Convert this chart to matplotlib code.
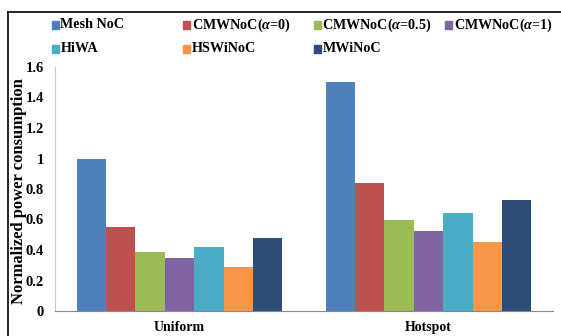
import numpy as np
import matplotlib
matplotlib.use("Agg")
import matplotlib.pyplot as plt
from matplotlib.lines import Line2D
from matplotlib.patches import Rectangle

plt.rcParams['font.family'] = ['Liberation Serif', 'DejaVu Serif']
plt.rcParams['font.weight'] = 'bold'
plt.rcParams['mathtext.fontset'] = 'custom'
plt.rcParams['mathtext.it'] = 'Liberation Serif:italic:bold'
plt.rcParams['mathtext.rm'] = 'Liberation Serif:bold'

categories = ["Uniform", "Hotspot"]
series = ["Mesh NoC", r"CMWNoC($\alpha$=0)", r"CMWNoC($\alpha$=0.5)",
          r"CMWNoC($\alpha$=1)", "HiWA", "HSWiNoC", "MWiNoC"]
uniform = [1.0, 0.55, 0.39, 0.345, 0.42, 0.29, 0.48]
hotspot = [1.5, 0.84, 0.595, 0.525, 0.64, 0.455, 0.73]
colors = ["#4F81BD", "#C0504D", "#9BBB59", "#8064A2", "#4BACC6", "#F79646", "#2C4D75"]

fig = plt.figure(figsize=(5.61, 3.36), dpi=100)
W, H = 561, 336
ax = fig.add_axes([55 / W, (H - 311) / H, (553 - 55) / W, (311 - 67) / H])

x = np.arange(len(categories))
n = len(series)
bw = 0.826 / n
for i, name in enumerate(series):
    vals = [uniform[i], hotspot[i]]
    ax.bar(x - 0.413 + bw * (i + 0.5), vals, bw, color=colors[i], label=name)

ax.set_xlim(-0.5, 1.5)
ax.set_ylim(0, 1.6)
ax.set_yticks(np.arange(0, 1.61, 0.2))
ax.set_yticklabels(["0", "0.2", "0.4", "0.6", "0.8", "1", "1.2", "1.4", "1.6"])
ax.set_xticks(x)
ax.set_xticklabels(categories)
ax.tick_params(axis='y', length=0, labelsize=10.5, pad=8)
ax.tick_params(axis='x', length=0, labelsize=10, pad=7.5)
for s in ["top", "right"]:
    ax.spines[s].set_visible(False)
ax.spines["left"].set_color("#c8c8c8")
ax.spines["bottom"].set_color("#888888")
ax.set_ylabel("Normalized power consumption", fontsize=12, fontweight='bold')
ax.yaxis.set_label_coords(-0.057, 0.49)

# legend: 4 columns, 2 rows, laid out like the original
col_x = [52, 183, 314, 445]
row_y = [25, 49]
for i, name in enumerate(series):
    cx = col_x[i % 4]
    cy = row_y[i // 4]
    fig.add_artist(Rectangle((cx / W, 1 - (cy + 3.5) / H), 6.5 / W, 7 / H,
                             transform=fig.transFigure, color=colors[i]))
    fig.text((cx + 8.5) / W, 1 - cy / H, name, fontsize=10.2, fontweight='bold',
             va='center', ha='left')

# outer border (top and left)
fig.add_artist(Line2D([8 / W, 1], [1 - 12 / H, 1 - 12 / H], transform=fig.transFigure,
                      color="black", lw=1.2))
fig.add_artist(Line2D([8 / W, 8 / W], [0, 1 - 12 / H], transform=fig.transFigure,
                      color="black", lw=1.2))

fig.savefig("out.png", dpi=100)
